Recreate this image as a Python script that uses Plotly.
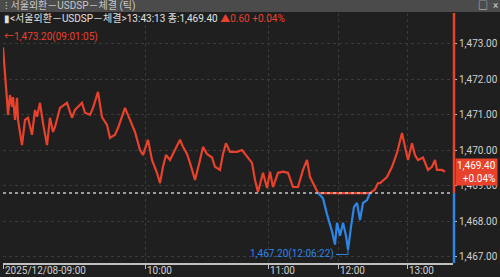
import plotly.graph_objects as go

# ---- data (tick index, price) ----
tick_idx = [0, 2, 4, 5, 7, 9, 10, 12, 14, 15, 19, 22, 25, 29, 32, 34, 37, 40, 44, 47, 50, 52,
            57, 64, 69, 72, 79, 82, 87, 90, 95, 99, 104, 107, 112, 115, 122, 127, 132, 137, 140,
            145, 149, 154, 157, 160, 163, 167, 170, 174, 177, 180, 184, 187, 192, 197, 200, 204,
            209, 212, 217, 220, 223, 227, 234, 239, 244, 249, 252, 255, 260, 264, 267, 270, 275,
            280, 285, 290, 295, 300, 304, 307, 312, 315, 320, 324, 329, 332, 334, 337, 340, 343,
            345, 348, 351, 354, 357, 360, 364, 367, 372, 375, 377, 384, 389, 394, 399, 402, 405,
            409, 412, 415, 420, 425, 429, 432, 434, 439, 442]
price = [1472.90, 1471.99, 1471.42, 1471.00, 1471.56, 1471.23, 1471.50, 1470.86, 1471.48, 1470.86,
         1470.15, 1470.86, 1470.92, 1470.44, 1471.14, 1470.95, 1471.34, 1470.77, 1470.15, 1470.92,
         1470.52, 1470.66, 1471.20, 1471.34, 1470.92, 1471.14, 1471.34, 1471.06, 1471.00, 1471.20,
         1471.65, 1470.94, 1470.72, 1470.35, 1470.44, 1470.63, 1471.20, 1470.86, 1470.52, 1470.01,
         1469.87, 1470.30, 1469.73, 1469.37, 1469.08, 1469.54, 1469.87, 1469.73, 1469.90, 1470.10,
         1470.30, 1470.10, 1469.90, 1469.65, 1469.17, 1469.73, 1470.10, 1469.90, 1469.80, 1469.54,
         1469.45, 1469.90, 1470.20, 1469.96, 1469.96, 1470.01, 1469.82, 1469.65, 1469.17, 1468.83,
         1469.37, 1468.94, 1469.40, 1468.97, 1469.37, 1469.40, 1469.37, 1468.97, 1468.97, 1469.45,
         1469.73, 1469.25, 1468.97, 1468.80, 1468.65, 1468.20, 1467.72, 1467.35, 1467.96, 1467.60,
         1467.96, 1467.60, 1467.20, 1467.85, 1468.41, 1468.52, 1468.04, 1468.52, 1468.60, 1468.80,
         1468.90, 1469.08, 1469.08, 1469.25, 1469.54, 1469.93, 1470.49, 1470.10, 1469.73, 1470.20,
         1469.87, 1469.73, 1469.80, 1469.45, 1469.54, 1469.73, 1469.45, 1469.45, 1469.40]
prev_close = 1468.80
time_ticks = [0, 142, 265, 335, 404]
time_labels = ["2025/12/08-09:00", "10:00", "11:00", "12:00", "13:00"]
price_ticks = [1467, 1468, 1469, 1470, 1471, 1472, 1473]

RED = "#e8412c"
BLUE = "#2d86e6"
BG = "#1f1f1f"
BAR = "#4b4b4b"
FONT = "Roboto, Noto Sans CJK KR, sans-serif"

# split into above/below previous close, inserting crossing points
def split(xs, ys, base):
    up_x, up_y, dn_x, dn_y = [], [], [], []
    for i in range(len(xs)):
        if i > 0:
            a, b = ys[i - 1] - base, ys[i] - base
            if a * b < 0:
                t = a / (a - b)
                cx = xs[i - 1] + t * (xs[i] - xs[i - 1])
                up_x.append(cx); up_y.append(base)
                dn_x.append(cx); dn_y.append(base)
                if a > 0:
                    up_x.append(None); up_y.append(None)
                else:
                    dn_x.append(None); dn_y.append(None)
        if ys[i] >= base:
            up_x.append(xs[i]); up_y.append(ys[i])
        if ys[i] <= base:
            dn_x.append(xs[i]); dn_y.append(ys[i])
    return up_x, up_y, dn_x, dn_y

ux, uy, dx, dy = split(tick_idx, price, prev_close)

fig = go.Figure()
fig.add_trace(go.Scatter(x=ux, y=uy, mode="lines", line=dict(color=RED, width=2.2),
                         hoverinfo="skip", connectgaps=False))
fig.add_trace(go.Scatter(x=dx, y=dy, mode="lines", line=dict(color=BLUE, width=2.2),
                         hoverinfo="skip", connectgaps=False))

L, R, T, B = 3, 47, 13, 14
W, H = 500, 277
pw, ph = W - L - R, H - T - B

def px(x):
    return (x - L) / pw

def py(y):
    return (H - B - y) / ph

shapes = []
# dark body below the gray title bar (paper background is the bar colour)
shapes.append(dict(type="rect", xref="paper", yref="paper", x0=px(-5), x1=px(W + 5), y0=py(H + 5), y1=py(12),
                   fillcolor=BG, line=dict(width=0), layer="below"))
# previous close dotted line
shapes.append(dict(type="line", xref="paper", yref="y", x0=0, x1=1, y0=prev_close, y1=prev_close,
                   line=dict(color="#c8c8c8", width=1.5, dash="dot")))
# right colored bar
shapes.append(dict(type="line", xref="paper", yref="y", x0=px(454), x1=px(454), y0=prev_close, y1=1473.87,
                   line=dict(color=RED, width=2.5)))
shapes.append(dict(type="line", xref="paper", yref="y", x0=px(454), x1=px(454), y0=1466.83, y1=prev_close,
                   line=dict(color=BLUE, width=2.5)))
# min marker connector
imin = price.index(min(price))
shapes.append(dict(type="path", xref="x", yref="y",
                   path=f"M {tick_idx[imin]-12},{min(price)-0.13} L {tick_idx[imin]},{min(price)-0.13} L {tick_idx[imin]},{min(price)}",
                   line=dict(color=BLUE, width=1)))

annotations = []
annotations.append(dict(xref="paper", yref="paper", x=px(3), y=py(6), xanchor="left", yanchor="middle",
                        text="⁝ 서울외환－USDSP－체결 (틱)", showarrow=False,
                        font=dict(color="#c8c8c8", size=10, family=FONT)))
annotations.append(dict(xref="paper", yref="paper", x=px(476), y=py(6), xanchor="left", yanchor="middle",
                        text="□  ×", showarrow=False, font=dict(color="#d0d0d0", size=10, family=FONT)))
annotations.append(dict(xref="paper", yref="paper", x=px(2), y=py(18.5), xanchor="left", yanchor="middle",
                        text="▮<서울외환－USDSP－체결>13:43:13 종:1,469.40 <span style='color:%s'>▲0.60 +0.04%%</span>" % RED,
                        showarrow=False, font=dict(color="#e0e0e0", size=10, family=FONT)))
annotations.append(dict(xref="paper", yref="paper", x=px(2), y=py(37), xanchor="left", yanchor="middle",
                        text="←1,473.20(09:01:05)", showarrow=False,
                        font=dict(color=RED, size=10, family=FONT)))
annotations.append(dict(xref="x", yref="y", x=tick_idx[imin] - 12, y=min(price) - 0.13, xanchor="right",
                        yanchor="middle", text="1,467.20(12:06:22)", showarrow=False,
                        font=dict(color=BLUE, size=10, family=FONT)))
# last price box
annotations.append(dict(xref="paper", yref="y", x=px(455), y=price[-1], xanchor="left", yanchor="middle",
                        text="1,469.40<br>+0.04%", showarrow=False, align="right",
                        bgcolor=RED, borderpad=1, font=dict(color="#ffffff", size=10, family=FONT)))
# time labels
for tv, tl in zip(time_ticks, time_labels):
    annotations.append(dict(xref="x", yref="paper", x=tv, y=py(270.5), xanchor="left", yanchor="middle",
                            text=tl, showarrow=False,
                            font=dict(color="#d0d0d0", size=10, family=FONT)))

fig.update_layout(
    width=W, height=H, margin=dict(l=L, r=R, t=T, b=B),
    paper_bgcolor=BAR, plot_bgcolor=BG, showlegend=False,
    shapes=shapes, annotations=annotations,
    xaxis=dict(range=[0, pw], tickvals=time_ticks, showticklabels=False, ticks="outside", ticklen=4,
               tickcolor="#c0c0c0", showline=True, linecolor="#c0c0c0", linewidth=1.5,
               showgrid=True, gridcolor="#3a3a3a", griddash="dot", zeroline=False, fixedrange=True),
    yaxis=dict(range=[1466.83, 1473.87], side="right", tickvals=price_ticks, tickformat=",.2f",
               ticks="outside", ticklen=3, tickcolor="#c0c0c0",
               tickfont=dict(color="#d0d0d0", size=10, family=FONT),
               showgrid=True, gridcolor="#3a3a3a", griddash="dot", zeroline=False, showline=False,
               fixedrange=True),
)

fig.write_html("out.html")
